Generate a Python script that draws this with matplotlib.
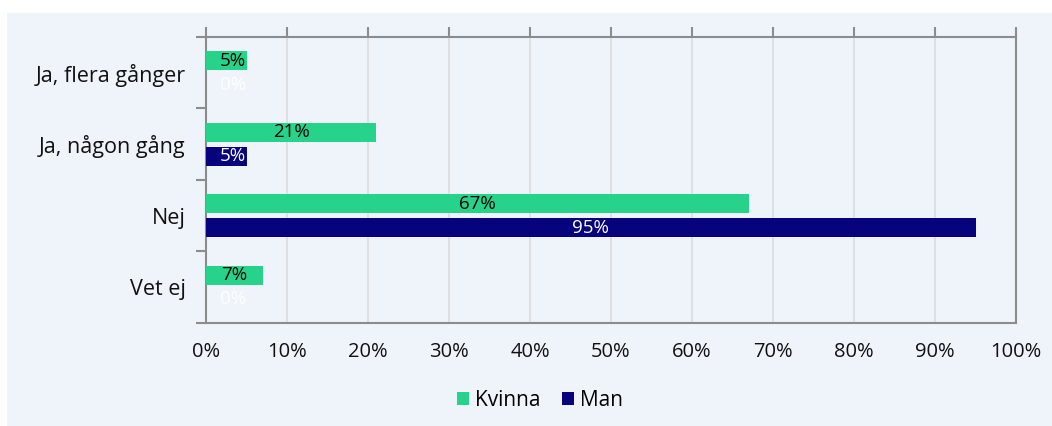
import matplotlib
matplotlib.use("Agg")
import matplotlib.pyplot as plt
import numpy as np
from matplotlib.patches import Rectangle

categories = ["Ja, flera gånger", "Ja, någon gång", "Nej", "Vet ej"]
kvinna = [5, 21, 67, 7]
man = [0, 5, 95, 0]
series_names = ["Kvinna", "Man"]
xticks = list(range(0, 101, 10))

GREEN = "#27D38A"
NAVY = "#07037D"
PANEL = "#EFF3FA"
SPINE = "#8C8C8C"

plt.rcParams["font.family"] = ["Open Sans", "DejaVu Sans"]

fig = plt.figure(figsize=(10.52, 4.26), dpi=100, facecolor="white")
fig.patches.append(Rectangle((7 / 1052, 0), 1 - 7 / 1052, 1 - 13 / 426,
                             transform=fig.transFigure, facecolor=PANEL,
                             edgecolor="none", zorder=-10))

ax = fig.add_axes([206 / 1052, 1 - 323 / 426, 810 / 1052, 286 / 426])
ax.set_facecolor(PANEL)

y = np.arange(len(categories))
h = 0.266
off = 0.168
ax.barh(y - off, kvinna, height=h, color=GREEN, label=series_names[0], zorder=3)
ax.barh(y + off, man, height=h, color=NAVY, label=series_names[1], zorder=3)

for i, (k, m) in enumerate(zip(kvinna, man)):
    ax.text(max(k / 2, 3.3), i - off, f"{k}%", ha="center", va="center",
            fontsize=13.5, color="black", zorder=4)
    ax.text(max(m / 2, 3.3), i + off, f"{m}%", ha="center", va="center",
            fontsize=13.5, color="white", zorder=4)

ax.set_xlim(0, 100)
ax.set_ylim(len(categories) - 0.5, -0.5)
ax.set_xticks(xticks)
ax.set_xticklabels([f"{t}%" for t in xticks], fontsize=14.5)
ax.set_yticks(y)
ax.set_yticklabels(categories, fontsize=15.5)
ax.set_yticks(np.arange(len(categories) + 1) - 0.5, minor=True)

ax.grid(axis="x", color="#DCDCDC", lw=1.2, zorder=0)
for s in ax.spines.values():
    s.set_color(SPINE)
    s.set_linewidth(1.5)

ax.tick_params(axis="x", top=True, bottom=False, labeltop=False, labelbottom=True,
               direction="out", length=7, color=SPINE, width=1.5, pad=7,
               labelcolor="#111111")
ax.tick_params(axis="y", which="major", left=False, pad=11, labelcolor="#111111")
ax.tick_params(axis="y", which="minor", left=True, direction="out", length=7,
               color=SPINE, width=1.5)

fig.legend(loc="center", bbox_to_anchor=(540 / 1052, 1 - 400 / 426), ncol=2,
           frameon=False, fontsize=15, handlelength=0.6, handleheight=0.6,
           handletextpad=0.3, columnspacing=1.0)

fig.savefig("out.png", dpi=100, facecolor="white")
